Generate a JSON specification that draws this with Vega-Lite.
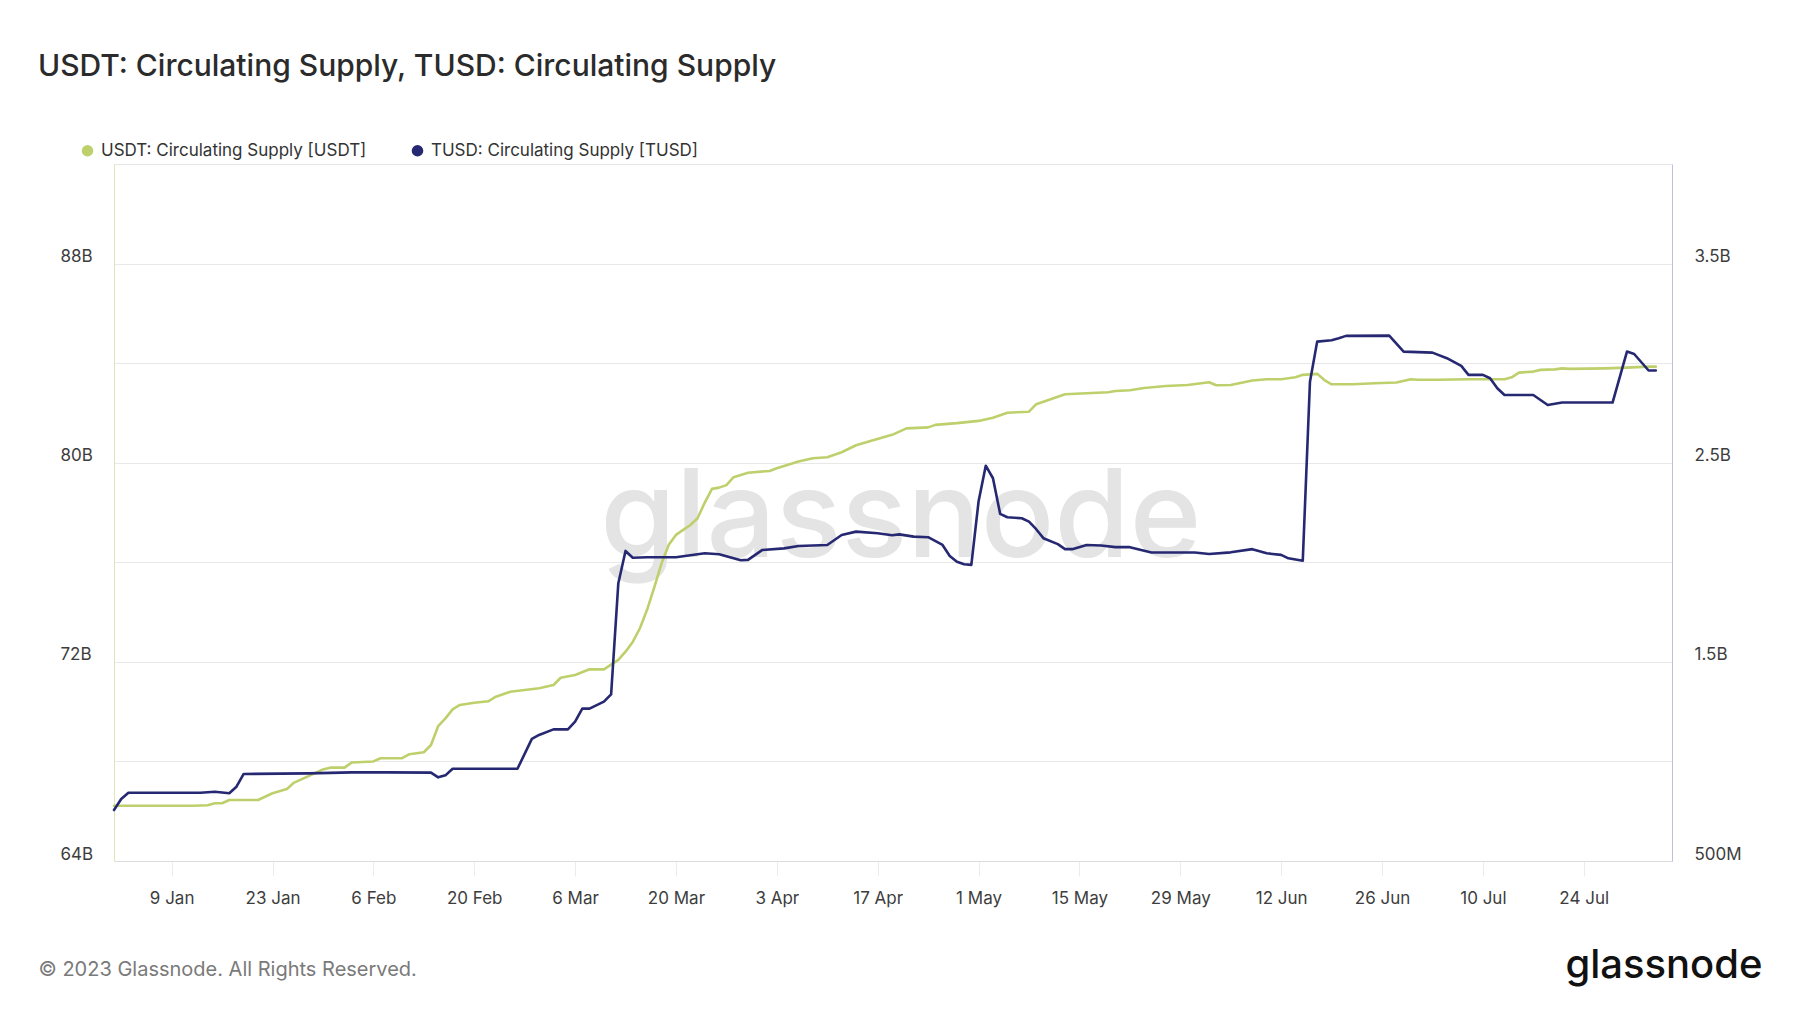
{
  "$schema": "https://vega.github.io/schema/vega-lite/v6.json",
  "width": 1558,
  "height": 697,
  "autosize": {"type": "none"},
  "padding": {"left": 114, "top": 164, "right": 128, "bottom": 152},
  "background": "white",
  "config": {
    "font": "Inter",
    "view": {"stroke": "#e6e6e6", "strokeWidth": 1},
    "axis": {"labelFont": "Inter", "titleFont": "Inter"},
    "legend": {"labelFont": "Inter"}
  },
  "title": {
    "text": "USDT: Circulating Supply, TUSD: Circulating Supply",
    "anchor": "start",
    "frame": "group",
    "orient": "top",
    "fontSize": 30,
    "fontWeight": 500,
    "color": "#2b2b2b",
    "baseline": "alphabetic",
    "dx": -76,
    "offset": 36
  },
  "datasets": {
    "usdt": [
      {"date": "2023-01-01", "value": 66220000000},
      {"date": "2023-01-12", "value": 66220000000},
      {"date": "2023-01-14", "value": 66240000000},
      {"date": "2023-01-15", "value": 66320000000},
      {"date": "2023-01-16", "value": 66320000000},
      {"date": "2023-01-17", "value": 66450000000},
      {"date": "2023-01-21", "value": 66450000000},
      {"date": "2023-01-23", "value": 66720000000},
      {"date": "2023-01-25", "value": 66890000000},
      {"date": "2023-01-26", "value": 67150000000},
      {"date": "2023-01-28", "value": 67410000000},
      {"date": "2023-01-30", "value": 67680000000},
      {"date": "2023-01-31", "value": 67750000000},
      {"date": "2023-02-02", "value": 67750000000},
      {"date": "2023-02-03", "value": 67960000000},
      {"date": "2023-02-06", "value": 68000000000},
      {"date": "2023-02-07", "value": 68130000000},
      {"date": "2023-02-10", "value": 68130000000},
      {"date": "2023-02-11", "value": 68290000000},
      {"date": "2023-02-13", "value": 68370000000},
      {"date": "2023-02-14", "value": 68660000000},
      {"date": "2023-02-15", "value": 69420000000},
      {"date": "2023-02-16", "value": 69730000000},
      {"date": "2023-02-17", "value": 70090000000},
      {"date": "2023-02-18", "value": 70270000000},
      {"date": "2023-02-20", "value": 70360000000},
      {"date": "2023-02-22", "value": 70420000000},
      {"date": "2023-02-23", "value": 70600000000},
      {"date": "2023-02-25", "value": 70800000000},
      {"date": "2023-03-01", "value": 70940000000},
      {"date": "2023-03-03", "value": 71070000000},
      {"date": "2023-03-04", "value": 71360000000},
      {"date": "2023-03-06", "value": 71470000000},
      {"date": "2023-03-08", "value": 71700000000},
      {"date": "2023-03-10", "value": 71700000000},
      {"date": "2023-03-12", "value": 72080000000},
      {"date": "2023-03-13", "value": 72410000000},
      {"date": "2023-03-14", "value": 72800000000},
      {"date": "2023-03-15", "value": 73350000000},
      {"date": "2023-03-16", "value": 74100000000},
      {"date": "2023-03-17", "value": 75000000000},
      {"date": "2023-03-18", "value": 75960000000},
      {"date": "2023-03-19", "value": 76700000000},
      {"date": "2023-03-20", "value": 77100000000},
      {"date": "2023-03-21", "value": 77300000000},
      {"date": "2023-03-22", "value": 77500000000},
      {"date": "2023-03-23", "value": 77770000000},
      {"date": "2023-03-24", "value": 78400000000},
      {"date": "2023-03-25", "value": 78950000000},
      {"date": "2023-03-26", "value": 79000000000},
      {"date": "2023-03-27", "value": 79100000000},
      {"date": "2023-03-28", "value": 79420000000},
      {"date": "2023-03-30", "value": 79600000000},
      {"date": "2023-04-02", "value": 79670000000},
      {"date": "2023-04-03", "value": 79780000000},
      {"date": "2023-04-06", "value": 80050000000},
      {"date": "2023-04-08", "value": 80180000000},
      {"date": "2023-04-10", "value": 80220000000},
      {"date": "2023-04-12", "value": 80420000000},
      {"date": "2023-04-14", "value": 80700000000},
      {"date": "2023-04-16", "value": 80870000000},
      {"date": "2023-04-19", "value": 81120000000},
      {"date": "2023-04-21", "value": 81380000000},
      {"date": "2023-04-24", "value": 81420000000},
      {"date": "2023-04-25", "value": 81520000000},
      {"date": "2023-04-28", "value": 81590000000},
      {"date": "2023-04-30", "value": 81650000000},
      {"date": "2023-05-01", "value": 81680000000},
      {"date": "2023-05-03", "value": 81810000000},
      {"date": "2023-05-05", "value": 82010000000},
      {"date": "2023-05-08", "value": 82050000000},
      {"date": "2023-05-09", "value": 82350000000},
      {"date": "2023-05-11", "value": 82550000000},
      {"date": "2023-05-13", "value": 82750000000},
      {"date": "2023-05-16", "value": 82790000000},
      {"date": "2023-05-19", "value": 82830000000},
      {"date": "2023-05-20", "value": 82880000000},
      {"date": "2023-05-22", "value": 82910000000},
      {"date": "2023-05-24", "value": 83000000000},
      {"date": "2023-05-27", "value": 83080000000},
      {"date": "2023-05-30", "value": 83120000000},
      {"date": "2023-06-02", "value": 83230000000},
      {"date": "2023-06-03", "value": 83110000000},
      {"date": "2023-06-05", "value": 83120000000},
      {"date": "2023-06-08", "value": 83300000000},
      {"date": "2023-06-10", "value": 83350000000},
      {"date": "2023-06-12", "value": 83350000000},
      {"date": "2023-06-14", "value": 83430000000},
      {"date": "2023-06-15", "value": 83530000000},
      {"date": "2023-06-17", "value": 83570000000},
      {"date": "2023-06-18", "value": 83320000000},
      {"date": "2023-06-19", "value": 83150000000},
      {"date": "2023-06-22", "value": 83150000000},
      {"date": "2023-06-25", "value": 83190000000},
      {"date": "2023-06-28", "value": 83220000000},
      {"date": "2023-06-30", "value": 83350000000},
      {"date": "2023-07-01", "value": 83330000000},
      {"date": "2023-07-04", "value": 83330000000},
      {"date": "2023-07-08", "value": 83350000000},
      {"date": "2023-07-13", "value": 83350000000},
      {"date": "2023-07-14", "value": 83430000000},
      {"date": "2023-07-15", "value": 83620000000},
      {"date": "2023-07-17", "value": 83660000000},
      {"date": "2023-07-18", "value": 83730000000},
      {"date": "2023-07-20", "value": 83750000000},
      {"date": "2023-07-21", "value": 83790000000},
      {"date": "2023-07-22", "value": 83770000000},
      {"date": "2023-07-27", "value": 83790000000},
      {"date": "2023-07-30", "value": 83820000000},
      {"date": "2023-08-02", "value": 83860000000},
      {"date": "2023-08-03", "value": 83860000000}
    ],
    "tusd": [
      {"date": "2023-01-01", "value": 756000000},
      {"date": "2023-01-02", "value": 811000000},
      {"date": "2023-01-03", "value": 843000000},
      {"date": "2023-01-13", "value": 843000000},
      {"date": "2023-01-15", "value": 848000000},
      {"date": "2023-01-17", "value": 840000000},
      {"date": "2023-01-18", "value": 873000000},
      {"date": "2023-01-19", "value": 937000000},
      {"date": "2023-01-28", "value": 940000000},
      {"date": "2023-02-03", "value": 945000000},
      {"date": "2023-02-08", "value": 945000000},
      {"date": "2023-02-14", "value": 944000000},
      {"date": "2023-02-15", "value": 920000000},
      {"date": "2023-02-16", "value": 930000000},
      {"date": "2023-02-17", "value": 963000000},
      {"date": "2023-02-26", "value": 963000000},
      {"date": "2023-02-28", "value": 1113000000},
      {"date": "2023-03-01", "value": 1133000000},
      {"date": "2023-03-03", "value": 1161000000},
      {"date": "2023-03-05", "value": 1161000000},
      {"date": "2023-03-06", "value": 1200000000},
      {"date": "2023-03-07", "value": 1265000000},
      {"date": "2023-03-08", "value": 1265000000},
      {"date": "2023-03-10", "value": 1300000000},
      {"date": "2023-03-11", "value": 1337000000},
      {"date": "2023-03-12", "value": 1895000000},
      {"date": "2023-03-13", "value": 2057000000},
      {"date": "2023-03-14", "value": 2023000000},
      {"date": "2023-03-16", "value": 2025000000},
      {"date": "2023-03-20", "value": 2025000000},
      {"date": "2023-03-24", "value": 2045000000},
      {"date": "2023-03-26", "value": 2040000000},
      {"date": "2023-03-29", "value": 2010000000},
      {"date": "2023-03-30", "value": 2012000000},
      {"date": "2023-04-01", "value": 2062000000},
      {"date": "2023-04-04", "value": 2070000000},
      {"date": "2023-04-06", "value": 2082000000},
      {"date": "2023-04-10", "value": 2087000000},
      {"date": "2023-04-12", "value": 2137000000},
      {"date": "2023-04-14", "value": 2154000000},
      {"date": "2023-04-17", "value": 2146000000},
      {"date": "2023-04-19", "value": 2136000000},
      {"date": "2023-04-20", "value": 2140000000},
      {"date": "2023-04-22", "value": 2129000000},
      {"date": "2023-04-24", "value": 2126000000},
      {"date": "2023-04-26", "value": 2087000000},
      {"date": "2023-04-27", "value": 2032000000},
      {"date": "2023-04-28", "value": 2003000000},
      {"date": "2023-04-29", "value": 1990000000},
      {"date": "2023-04-30", "value": 1987000000},
      {"date": "2023-05-01", "value": 2305000000},
      {"date": "2023-05-02", "value": 2485000000},
      {"date": "2023-05-03", "value": 2422000000},
      {"date": "2023-05-04", "value": 2243000000},
      {"date": "2023-05-05", "value": 2226000000},
      {"date": "2023-05-07", "value": 2221000000},
      {"date": "2023-05-08", "value": 2204000000},
      {"date": "2023-05-09", "value": 2166000000},
      {"date": "2023-05-10", "value": 2121000000},
      {"date": "2023-05-12", "value": 2091000000},
      {"date": "2023-05-13", "value": 2066000000},
      {"date": "2023-05-14", "value": 2066000000},
      {"date": "2023-05-16", "value": 2087000000},
      {"date": "2023-05-18", "value": 2084000000},
      {"date": "2023-05-20", "value": 2076000000},
      {"date": "2023-05-22", "value": 2076000000},
      {"date": "2023-05-25", "value": 2049000000},
      {"date": "2023-05-31", "value": 2049000000},
      {"date": "2023-06-02", "value": 2042000000},
      {"date": "2023-06-05", "value": 2050000000},
      {"date": "2023-06-08", "value": 2066000000},
      {"date": "2023-06-10", "value": 2045000000},
      {"date": "2023-06-12", "value": 2037000000},
      {"date": "2023-06-13", "value": 2020000000},
      {"date": "2023-06-15", "value": 2008000000},
      {"date": "2023-06-16", "value": 2907000000},
      {"date": "2023-06-17", "value": 3108000000},
      {"date": "2023-06-19", "value": 3115000000},
      {"date": "2023-06-20", "value": 3125000000},
      {"date": "2023-06-21", "value": 3137000000},
      {"date": "2023-06-27", "value": 3138000000},
      {"date": "2023-06-29", "value": 3058000000},
      {"date": "2023-07-03", "value": 3053000000},
      {"date": "2023-07-05", "value": 3025000000},
      {"date": "2023-07-07", "value": 2986000000},
      {"date": "2023-07-08", "value": 2941000000},
      {"date": "2023-07-10", "value": 2941000000},
      {"date": "2023-07-11", "value": 2924000000},
      {"date": "2023-07-12", "value": 2874000000},
      {"date": "2023-07-13", "value": 2840000000},
      {"date": "2023-07-17", "value": 2840000000},
      {"date": "2023-07-19", "value": 2790000000},
      {"date": "2023-07-21", "value": 2802000000},
      {"date": "2023-07-28", "value": 2802000000},
      {"date": "2023-07-30", "value": 3058000000},
      {"date": "2023-07-31", "value": 3046000000},
      {"date": "2023-08-02", "value": 2963000000},
      {"date": "2023-08-03", "value": 2963000000}
    ],
    "watermark": [
      {"date": "2023-04-20T05:00:00Z", "value": 76210000000, "label": "glassnode"}
    ]
  },
  "encoding": {
    "x": {
      "field": "date",
      "type": "temporal",
      "scale": {
        "type": "utc",
        "domain": [
          {"year": 2023, "month": 1, "date": 1, "utc": true},
          {"year": 2023, "month": 8, "date": 5, "hours": 6, "utc": true}
        ]
      },
      "axis": {
        "values": [
          {"year": 2023, "month": 1, "date": 9, "utc": true},
          {"year": 2023, "month": 1, "date": 23, "utc": true},
          {"year": 2023, "month": 2, "date": 6, "utc": true},
          {"year": 2023, "month": 2, "date": 20, "utc": true},
          {"year": 2023, "month": 3, "date": 6, "utc": true},
          {"year": 2023, "month": 3, "date": 20, "utc": true},
          {"year": 2023, "month": 4, "date": 3, "utc": true},
          {"year": 2023, "month": 4, "date": 17, "utc": true},
          {"year": 2023, "month": 5, "date": 1, "utc": true},
          {"year": 2023, "month": 5, "date": 15, "utc": true},
          {"year": 2023, "month": 5, "date": 29, "utc": true},
          {"year": 2023, "month": 6, "date": 12, "utc": true},
          {"year": 2023, "month": 6, "date": 26, "utc": true},
          {"year": 2023, "month": 7, "date": 10, "utc": true},
          {"year": 2023, "month": 7, "date": 24, "utc": true}
        ],
        "format": "%-d %b",
        "grid": false,
        "labelFontSize": 17,
        "labelColor": "#3d3d3d",
        "labelPadding": 14,
        "tickSize": 15,
        "tickColor": "#ececec",
        "domainColor": "#dddddd",
        "labelFlush": false,
        "labelOverlap": false,
        "title": "© 2023 Glassnode. All Rights Reserved.",
        "titleFontSize": 20,
        "titleFontWeight": "normal",
        "titleColor": "#7a7a7a",
        "titleAnchor": "start",
        "titleAlign": "left",
        "titleBaseline": "alphabetic",
        "titleX": -76,
        "titleY": 114
      }
    }
  },
  "layer": [
    {
      "encoding": {
        "y": {
          "field": "value",
          "type": "quantitative",
          "scale": {"domain": [64000000000, 92000000000], "nice": false, "zero": false},
          "axis": {
            "orient": "left",
            "values": [64000000000, 68000000000, 72000000000, 76000000000, 80000000000, 84000000000, 88000000000],
            "labelExpr": "datum.value % 8000000000 === 0 ? format(datum.value / 1000000000, 'd') + 'B' : ''",
            "grid": true,
            "gridColor": "#e8e8e8",
            "ticks": false,
            "tickSize": 0,
            "labelAlign": "left",
            "labelBaseline": "alphabetic",
            "labelOffset": -2,
            "labelPadding": 54,
            "labelFontSize": 17,
            "labelColor": "#3d3d3d",
            "domainColor": "#dfe8b5",
            "title": null
          }
        }
      },
      "layer": [
        {
          "data": {"name": "watermark"},
          "mark": {"type": "text", "font": "Inter", "fontSize": 122, "fontWeight": 500, "color": "#e4e4e4", "align": "center", "baseline": "alphabetic"},
          "encoding": {"text": {"field": "label"}}
        },
        {
          "data": {"name": "usdt"},
          "mark": {"type": "line", "strokeWidth": 2.6, "strokeJoin": "round", "strokeCap": "round"},
          "encoding": {
            "color": {
              "datum": "USDT: Circulating Supply [USDT]",
              "type": "nominal",
              "scale": {
                "domain": ["USDT: Circulating Supply [USDT]", "TUSD: Circulating Supply [TUSD]"],
                "range": ["#bdd06c", "#262872"]
              },
              "legend": {
                "orient": "none",
                "legendX": -35,
                "legendY": -22,
                "direction": "horizontal",
                "title": null,
                "symbolType": "circle",
                "symbolSize": 135,
                "symbolStrokeWidth": 0,
                "labelFontSize": 17,
                "labelLimit": 0,
                "labelColor": "#333333",
                "labelOffset": 5,
                "columnPadding": 42,
                "encode": {
                  "symbols": {"update": {"fill": {"scale": "color", "field": "value"}, "fillOpacity": {"value": 1}}}
                }
              }
            }
          }
        }
      ]
    },
    {
      "data": {"name": "tusd"},
      "mark": {"type": "line", "strokeWidth": 2.6, "strokeJoin": "round", "strokeCap": "round"},
      "encoding": {
        "color": {"datum": "TUSD: Circulating Supply [TUSD]", "type": "nominal"},
        "y": {
          "field": "value",
          "type": "quantitative",
          "scale": {"domain": [500000000, 4000000000], "nice": false, "zero": false},
          "axis": {
            "orient": "right",
            "values": [500000000, 1000000000, 1500000000, 2000000000, 2500000000, 3000000000, 3500000000],
            "labelExpr": "datum.value === 500000000 ? '500M' : (datum.value % 1000000000 === 500000000 ? format(datum.value / 1000000000, '.1f') + 'B' : '')",
            "grid": false,
            "ticks": false,
            "tickSize": 0,
            "labelAlign": "left",
            "labelBaseline": "alphabetic",
            "labelOffset": -2,
            "labelPadding": 22,
            "labelFontSize": 17,
            "labelColor": "#3d3d3d",
            "domainColor": "#bfc0dc",
            "title": "glassnode",
            "titleAngle": 0,
            "titleX": 90,
            "titleY": 813,
            "titleAlign": "right",
            "titleBaseline": "alphabetic",
            "titleFontSize": 40,
            "titleFontWeight": 500,
            "titleColor": "#111111"
          }
        }
      }
    }
  ],
  "resolve": {"scale": {"y": "independent"}}
}
